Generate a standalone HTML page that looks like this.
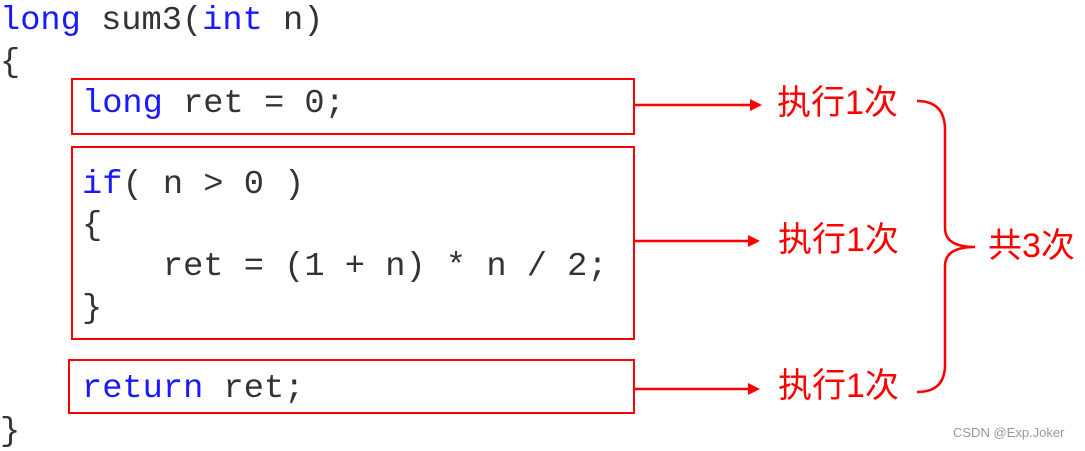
<!DOCTYPE html>
<html><head><meta charset="utf-8"><style>
body{margin:0;width:1085px;height:450px;background:#fff;position:relative;overflow:hidden}
.c{position:absolute;font-family:"Liberation Mono",monospace;font-size:33.7px;color:#333;white-space:pre;line-height:1}
.k{color:#1a1aff}
.l{position:absolute;font-family:"Liberation Sans","Noto Sans CJK SC",sans-serif;font-size:34px;color:#f00;line-height:1;white-space:nowrap}
.b{position:absolute;border:2.5px solid #f00;box-sizing:border-box}
</style></head><body>
<div class="c" style="left:0;top:5px"><span class="k">long</span> sum3(<span class="k">int</span> n)</div>
<div class="c" style="left:0;top:47px">{</div>
<div class="c" style="left:82px;top:88px"><span class="k">long</span> ret = 0;</div>
<div class="c" style="left:82px;top:169px"><span class="k">if</span>( n &gt; 0 )</div>
<div class="c" style="left:82px;top:210px">{</div>
<div class="c" style="left:82px;top:251px">    ret = (1 + n) * n / 2;</div>
<div class="c" style="left:82px;top:293px">}</div>
<div class="c" style="left:82px;top:373px"><span class="k">return</span> ret;</div>
<div class="c" style="left:0;top:416px">}</div>
<div class="b" style="left:71px;top:78px;width:564px;height:57px"></div>
<div class="b" style="left:71px;top:146px;width:564px;height:194px"></div>
<div class="b" style="left:68px;top:359px;width:567px;height:55px"></div>
<svg style="position:absolute;left:0;top:0" width="1085" height="450">
<g stroke="#f00" stroke-width="2.5" fill="none">
<line x1="635" y1="105" x2="752" y2="105"/>
<line x1="635" y1="241" x2="750" y2="241"/>
<line x1="635" y1="389" x2="750" y2="389"/>
<path d="M917 101 Q945 101 945 130 L945 228 Q945 247 975 247 Q945 247 945 266 L945 365 Q945 392 917 392"/>
</g>
<g fill="#f00">
<polygon points="762,105 750,99 750,111"/>
<polygon points="760,241 748,235 748,247"/>
<polygon points="760,389 748,383 748,395"/>
</g>
</svg>
<div class="l" style="left:777px;top:86px">执行1次</div>
<div class="l" style="left:778px;top:223px">执行1次</div>
<div class="l" style="left:778px;top:369px">执行1次</div>
<div class="l" style="left:988px;top:229px">共3次</div>
<div style="position:absolute;left:953px;top:425px;font-family:'Liberation Sans',sans-serif;font-size:13px;color:#999">CSDN @Exp.Joker</div>
</body></html>
